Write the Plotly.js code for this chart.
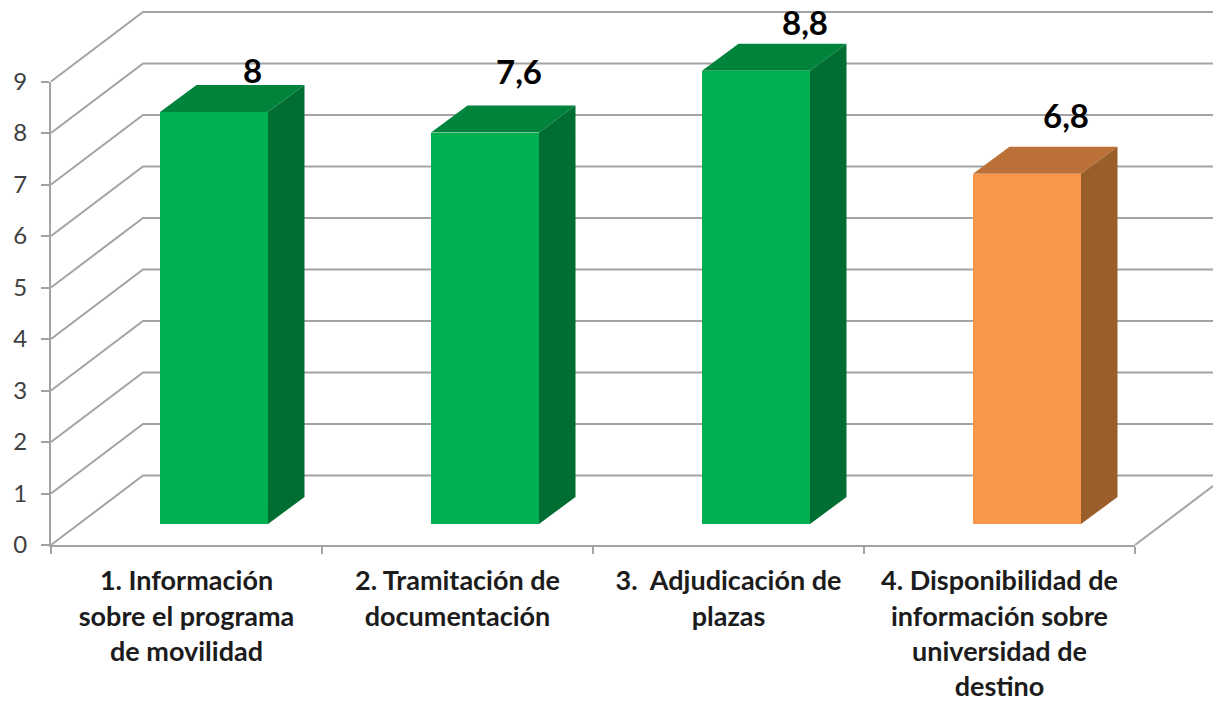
<!DOCTYPE html>
<html>
<head>
<meta charset="utf-8">
<script src="https://cdn.plot.ly/plotly-3.0.1.min.js"></script>
<style>html,body{margin:0;padding:0;background:#fff}#chart{width:1213px;height:701px}</style>
</head>
<body>
<div id="chart"></div>
<script>
const categories = ["1. Información<br>sobre el programa<br>de movilidad", "2. Tramitación de<br>documentación", "3.\u00a0\u00a0Adjudicación de<br>plazas", "4. Disponibilidad de<br>información sobre<br>universidad de<br>destino"];
const values = [8, 7.6, 8.8, 6.8];
const valueLabels = ["8", "7,6", "8,8", "6,8"];
const frontColors = ["#00B050", "#00B050", "#00B050", "#F9964A"];
const topColors = ["#00843C", "#00843C", "#00843C", "#BA7036"];
const sideColors = ["#006E32", "#006E32", "#006E32", "#9A5E2B"];
const yTicks = [0, 1, 2, 3, 4, 5, 6, 7, 8, 9];
const labelShiftX = [38, 34, 49, 39];
const labelShiftY = [42, 62, 49, 59];

const W = 1213, H = 701, L = 51, R = 1135, T = 81.5, B = 545;
const unitX = (R - L) / 4, unitY = (B - T) / 9;
const wallDX = 92 / unitX, wallDY = 69.5 / unitY;
const barOffset = 0.1015, barWidth = 108 / unitX, barBase = 21 / unitY;
const barDX = 36.5 / unitX, barDY = 27 / unitY;
const gridColor = "#A3A3A3";
// Full-page axes share the scale of the visible axes so that the 3D depth can leave the plot frame.
const pageRangeX = [-L / unitX, (W - L) / unitX], pageRangeY = [(B - H) / unitY, B / unitY];

const gx = [], gy = [];
yTicks.forEach(v => {
  gx.push(0, wallDX, 4 + wallDX, null);
  gy.push(v, v + wallDY, v + wallDY, null);
});
gx.push(4, 4 + wallDX, null);
gy.push(0, wallDY, null);

const traces = [
  {type: "scatter", mode: "none", x: [0, 4], y: [0, 9], xaxis: "x", yaxis: "y", hoverinfo: "skip", showlegend: false},
  {type: "scatter", mode: "lines", x: gx, y: gy, xaxis: "x2", yaxis: "y2",
   line: {color: gridColor, width: 2}, hoverinfo: "skip", showlegend: false}
];

const centers = values.map((_, i) => i + 0.5 + barOffset);
traces.push({
  type: "bar", x: centers, y: values, base: values.map(() => barBase), width: barWidth,
  marker: {color: frontColors, line: {width: 0}}, xaxis: "x3", yaxis: "y3",
  hoverinfo: "skip", showlegend: false
});
values.forEach((v, i) => {
  const x0 = centers[i] - barWidth / 2, x1 = centers[i] + barWidth / 2;
  const y0 = barBase, y1 = barBase + v;
  traces.push({
    type: "scatter", mode: "lines", fill: "toself", fillcolor: topColors[i],
    x: [x0, x1, x1 + barDX, x0 + barDX, x0], y: [y1, y1, y1 + barDY, y1 + barDY, y1],
    line: {width: 0, color: topColors[i]}, xaxis: "x3", yaxis: "y3",
    hoverinfo: "skip", showlegend: false
  });
  traces.push({
    type: "scatter", mode: "lines", fill: "toself", fillcolor: sideColors[i],
    x: [x1, x1 + barDX, x1 + barDX, x1, x1], y: [y0, y0 + barDY, y1 + barDY, y1, y0],
    line: {width: 0, color: sideColors[i]}, xaxis: "x3", yaxis: "y3",
    hoverinfo: "skip", showlegend: false
  });
});

const layout = {
  width: W, height: H, autosize: false,
  margin: {l: 0, r: 0, t: 0, b: 0, pad: 0},
  paper_bgcolor: "#fff", plot_bgcolor: "rgba(0,0,0,0)",
  showlegend: false, bargap: 0,
  font: {family: "Lato, 'Noto Sans', sans-serif"},
  xaxis: {
    domain: [L / W, R / W], range: [0, 4], anchor: "y",
    tickmode: "array", tickvals: categories.map((_, i) => i + 0.5), ticktext: categories,
    ticks: "", ticklen: 0, showgrid: false, zeroline: false, fixedrange: true,
    showline: true, linecolor: gridColor, linewidth: 2,
    ticklabelstandoff: 11,
    tickfont: {size: 27, color: "#1C1C1C", weight: "bold"},
    minor: {tickmode: "array", tickvals: [0, 1, 2, 3, 4], ticks: "outside", ticklen: 7, tickwidth: 2, tickcolor: gridColor, showgrid: false}
  },
  yaxis: {
    domain: [(H - B) / H, (H - T) / H], range: [0, 9], anchor: "x",
    tickmode: "array", tickvals: yTicks, ticktext: yTicks.map(String),
    ticks: "outside", ticklen: 8, tickwidth: 2, tickcolor: gridColor,
    ticklabelstandoff: 9,
    showgrid: false, zeroline: false, fixedrange: true,
    showline: true, linecolor: gridColor, linewidth: 2,
    tickfont: {size: 24, color: "#404040"}
  },
  xaxis2: {domain: [0, 1], range: pageRangeX, visible: false, fixedrange: true, anchor: "y2"},
  yaxis2: {domain: [0, 1], range: pageRangeY, visible: false, fixedrange: true, anchor: "x2"},
  xaxis3: {overlaying: "x2", range: pageRangeX, visible: false, fixedrange: true, anchor: "y3"},
  yaxis3: {overlaying: "y2", range: pageRangeY, visible: false, fixedrange: true, anchor: "x3"},
  annotations: values.map((v, i) => ({
    xref: "x3", yref: "y3", x: centers[i], y: barBase + v,
    text: "<b>" + valueLabels[i] + "</b>", showarrow: false,
    xanchor: "center", yanchor: "middle",
    xshift: labelShiftX[i], yshift: labelShiftY[i],
    font: {size: 33, color: "#000"}
  }))
};

Plotly.newPlot("chart", traces, layout, {displayModeBar: false, responsive: false});
</script>
</body>
</html>
